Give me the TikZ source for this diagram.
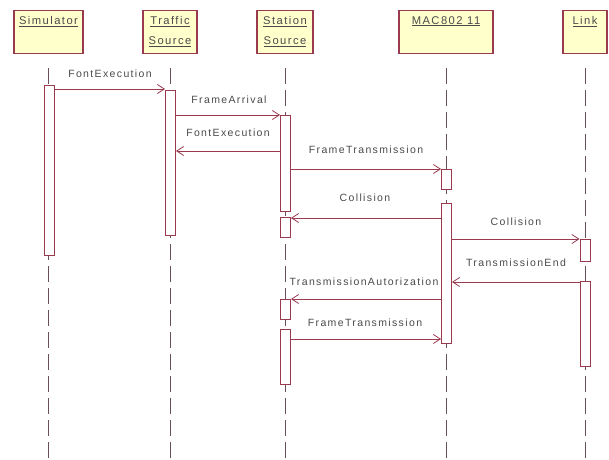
\documentclass[tikz,border=0pt]{standalone}
\usepackage{fontspec}
\setmainfont{Liberation Sans}
\newfontfamily\lblfont[LetterSpace=13]{Liberation Sans}
\usetikzlibrary{arrows.meta}
\definecolor{umlline}{HTML}{9A3A4E}
\definecolor{umlfill}{HTML}{FFFFCC}
\definecolor{umltext}{HTML}{4A4A4A}
\definecolor{lifecol}{HTML}{6A5058}
\tikzset{
  objbox/.style={draw=umlline, fill=umlfill, line width=1.1pt, minimum height=43pt, inner sep=0pt, anchor=north},
  objname/.style={anchor=north, text=umltext, font=\lblfont\fontsize{11.2}{20.5}\selectfont, align=center, inner sep=0pt},
  lifeline/.style={draw=lifecol, line width=0.9pt, dash pattern=on 16pt off 6pt},
  actbar/.style={draw=umlline, fill=white, line width=0.9pt, minimum width=10pt, inner sep=0pt, anchor=north},
  msg/.style={draw=umlline, line width=0.9pt, -{Straight Barb[length=7pt,width=9pt,line width=0.8pt]}},
  msglabel/.style={text=umltext, font=\lblfont\fontsize{10.5}{12}\selectfont, inner sep=0pt}
}
\begin{document}
\begin{tikzpicture}[x=1pt,y=-1pt]
\useasboundingbox (0,0) rectangle (609,459);
% object headers
\node[objbox, minimum width=69pt] (simBox) at (48.5,10) {};
\node[objbox, minimum width=54pt] (traBox) at (170,10) {};
\node[objbox, minimum width=56pt] (staBox) at (285,10) {};
\node[objbox, minimum width=94pt] (macBox) at (446,10) {};
\node[objbox, minimum width=44pt] (lnkBox) at (585,10) {};
\node[objname] (simName) at ([yshift=-6pt]simBox.north) {\underline{Simulator}};
\node[objname] (traName) at ([yshift=-6pt]traBox.north) {\underline{Traffic}\\\underline{Source}};
\node[objname] (staName) at ([yshift=-6pt]staBox.north) {\underline{Station}\\\underline{Source}};
\node[objname] (macName) at ([yshift=-6pt]macBox.north) {\underline{MAC802 11}};
\node[objname] (lnkName) at ([yshift=-6pt]lnkBox.north) {\underline{Link}};
% lifelines
\draw[lifeline] (simBox.south |- 0,68) -- (simBox.south |- 0,459);
\draw[lifeline] (traBox.south |- 0,68) -- (traBox.south |- 0,459);
\draw[lifeline] (staBox.south |- 0,68) -- (staBox.south |- 0,459);
\draw[lifeline] (macBox.south |- 0,68) -- (macBox.south |- 0,459);
\draw[lifeline] (lnkBox.south |- 0,68) -- (lnkBox.south |- 0,459);
% activation bars
\node[actbar, minimum height=170pt] (sim1) at (49.5,85) {};
\node[actbar, minimum height=145pt] (tra1) at (170.5,90) {};
\node[actbar, minimum height=96pt] (sta1) at (285.5,115) {};
\node[actbar, minimum height=20pt] (sta2) at (285.5,217) {};
\node[actbar, minimum height=20pt] (sta3) at (285.5,299) {};
\node[actbar, minimum height=55pt] (sta4) at (285.5,329) {};
\node[actbar, minimum height=20pt] (mac1) at (446.5,169) {};
\node[actbar, minimum height=140pt] (mac2) at (446.5,203) {};
\node[actbar, minimum height=22pt] (lnk1) at (585,239) {};
\node[actbar, minimum height=85pt] (lnk2) at (585,281) {};
% messages
\draw[msg] (sim1.east |- 0,89) -- (tra1.west |- 0,89);
\node[msglabel] (m1) at (110,74) {FontExecution};
\draw[msg] (tra1.east |- 0,115) -- (sta1.west |- 0,115);
\node[msglabel] (m2) at (229,100) {FrameArrival};
\draw[msg] (sta1.west |- 0,151) -- (tra1.east |- 0,151);
\node[msglabel] (m3) at (228,133) {FontExecution};
\draw[msg] (sta1.east |- 0,169) -- (mac1.west |- 0,169);
\node[msglabel] (m4) at (366,150) {FrameTransmission};
\draw[msg] (mac2.west |- 0,218) -- (sta2.east |- 0,218);
\node[msglabel] (m5) at (365,198) {Collision};
\draw[msg] (mac2.east |- 0,239) -- (lnk1.west |- 0,239);
\node[msglabel] (m6) at (516,222) {Collision};
\draw[msg] (lnk2.west |- 0,282) -- (mac2.east |- 0,282);
\node[msglabel] (m7) at (516,263) {TransmissionEnd};
\draw[msg] (mac2.west |- 0,299) -- (sta3.east |- 0,299);
\node[msglabel] (m8) at (364,282) {TransmissionAutorization};
\draw[msg] (sta4.east |- 0,339) -- (mac2.west |- 0,339);
\node[msglabel] (m9) at (365,323) {FrameTransmission};
\end{tikzpicture}
\end{document}
